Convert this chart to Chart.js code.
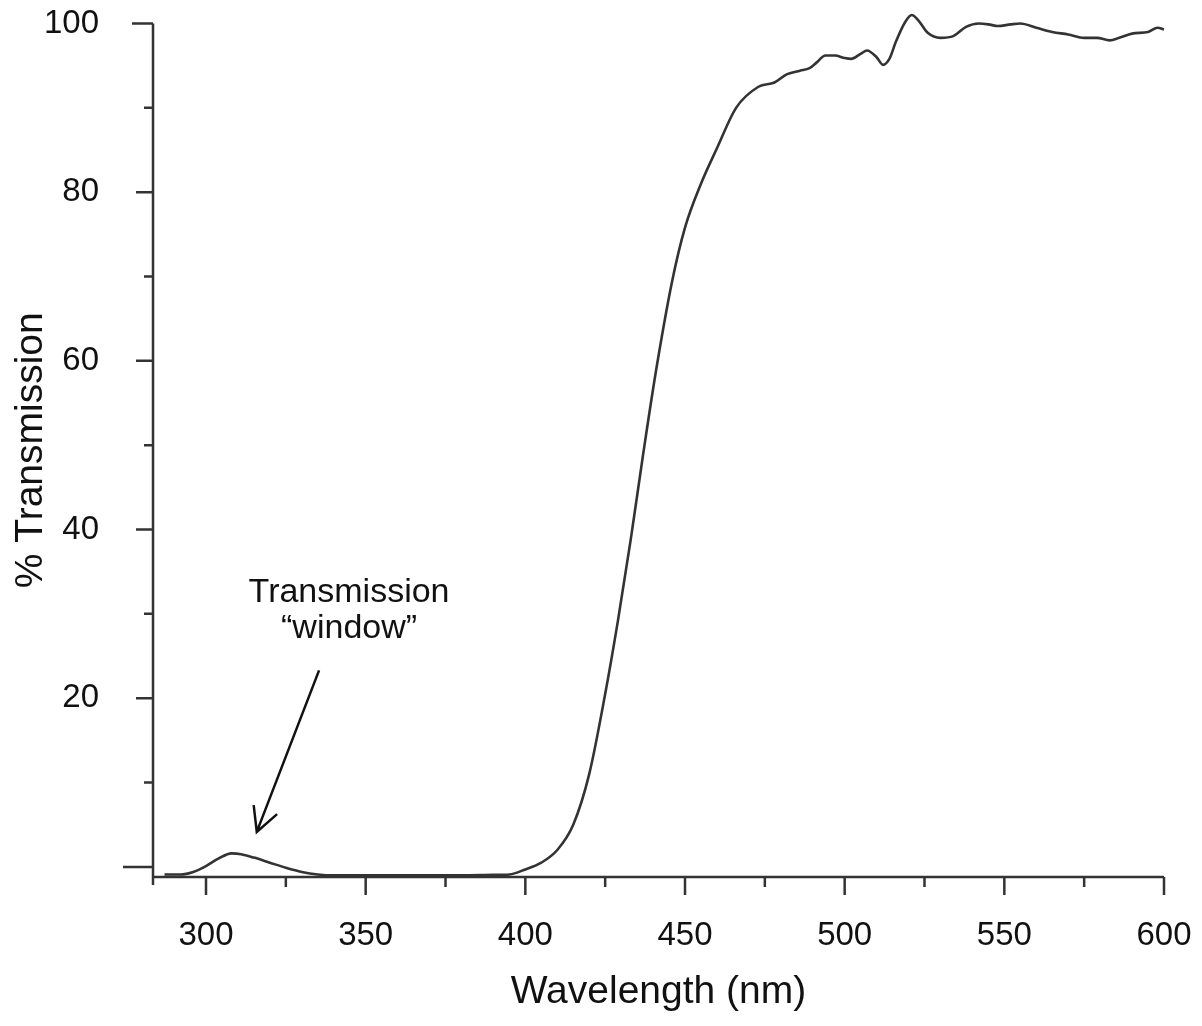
<!DOCTYPE html>
<html>
<head>
<meta charset="utf-8">
<title>% Transmission vs Wavelength</title>
<script src="https://cdn.jsdelivr.net/npm/chart.js@4.4.1/dist/chart.umd.min.js"></script>
<style>
  html, body { margin: 0; padding: 0; background: #fff; }
  #wrap { width: 1202px; height: 1026px; position: relative; }
</style>
</head>
<body>
<div id="wrap"><canvas id="spectrum"></canvas></div>
<script>
// transmission spectrum, wavelength in nm
let wavelengths = [
    287, 292, 296, 300, 304, 308, 311, 315, 320, 325, 330, 335, 340,
    350, 360, 370, 380, 390, 395, 400, 405, 410, 415, 420, 425, 429,
    433, 437, 441, 446, 450, 455, 460, 466, 473, 478, 482, 486, 489,
    491, 494, 497, 500, 502, 505, 507, 510, 512, 514, 516, 519, 521,
    523, 526, 530, 534, 538, 542, 545, 548, 552, 555, 560, 565, 570,
    575, 579, 583, 586, 590, 595, 598, 600
];
let transmission = [
    -0.9, -0.9, -0.6, 0.1, 1.0, 1.6, 1.5, 1.1, 0.5, -0.1, -0.6, -0.9, -1.0,
    -1.0, -1.0, -1.0, -1.0, -0.95, -0.9, -0.3, 0.5, 2.0, 5.0, 11.0, 20.5, 29.2,
    38.8, 49.2, 59.0, 69.5, 75.8, 81.0, 85.2, 90.0, 92.5, 93.0, 94.0, 94.4, 94.7,
    95.3, 96.2, 96.2, 95.9, 95.8, 96.4, 96.8, 96.0, 95.1, 95.8, 97.8, 100.2, 101.0,
    100.4, 98.9, 98.3, 98.5, 99.6, 100.0, 99.9, 99.7, 99.9, 100.0, 99.5, 99.0, 98.7,
    98.3, 98.3, 98.0, 98.3, 98.8, 99.0, 99.5, 99.3
];

let xMajor = [300, 350, 400, 450, 500, 550, 600];
let xMinor = [325, 375, 425, 475, 525, 575];
let yMajor = [0, 20, 40, 60, 80, 100];
let yMinor = [10, 30, 50, 70, 90];
let yLabels = ["", "20", "40", "60", "80", "100"];

const INK = "#333";
const FONT = "'Liberation Sans', Arial, sans-serif";

let points = wavelengths.map((w, i) => ({ x: w, y: transmission[i] }));

// axes + tick marks drawn by hand, plus the "window" note with its arrow
const axesPlugin = {
    id: "axes",
    afterDraw(chart) {
        let ctx = chart.ctx,
            xs = chart.scales.x,
            ys = chart.scales.y,
            area = chart.chartArea;

        ctx.save();
        ctx.strokeStyle = INK;
        ctx.lineWidth = 2.5;
        ctx.lineCap = "butt";

        // y axis line and ticks
        ctx.beginPath();
        ctx.moveTo(area.left, area.top);
        ctx.lineTo(area.left, area.bottom + 8);
        yMajor.forEach(v => {
            let py = ys.getPixelForValue(v);
            let len = v === 0 ? 30 : (v === 100 ? 21 : 17);
            ctx.moveTo(area.left - len, py);
            ctx.lineTo(area.left, py);
        });
        yMinor.forEach(v => {
            let py = ys.getPixelForValue(v);
            ctx.moveTo(area.left - 9, py);
            ctx.lineTo(area.left, py);
        });

        // x axis line and ticks
        ctx.moveTo(area.left, area.bottom);
        ctx.lineTo(xs.getPixelForValue(600), area.bottom);
        xMajor.forEach(v => {
            let px = xs.getPixelForValue(v);
            ctx.moveTo(px, area.bottom);
            ctx.lineTo(px, area.bottom + 18);
        });
        xMinor.forEach(v => {
            let px = xs.getPixelForValue(v);
            ctx.moveTo(px, area.bottom);
            ctx.lineTo(px, area.bottom + 10);
        });
        ctx.stroke();

        // annotation
        ctx.fillStyle = "#111";
        ctx.font = "34px " + FONT;
        ctx.textAlign = "center";
        ctx.textBaseline = "middle";
        ctx.fillText("Transmission", xs.getPixelForValue(344.8), ys.getPixelForValue(32.5));
        ctx.fillText("\u201Cwindow\u201D", xs.getPixelForValue(344.8), ys.getPixelForValue(28.3));

        let x0 = xs.getPixelForValue(335.4), y0 = ys.getPixelForValue(23.3),
            x1 = xs.getPixelForValue(315.9), y1 = ys.getPixelForValue(4.15);
        let ang = Math.atan2(y1 - y0, x1 - x0),
            head = 27, spread = Math.PI / 6.5;
        ctx.strokeStyle = "#111";
        ctx.lineWidth = 2.5;
        ctx.beginPath();
        ctx.moveTo(x0, y0);
        ctx.lineTo(x1, y1);
        ctx.moveTo(x1 - head * Math.cos(ang - spread), y1 - head * Math.sin(ang - spread));
        ctx.lineTo(x1, y1);
        ctx.lineTo(x1 - head * Math.cos(ang + spread), y1 - head * Math.sin(ang + spread));
        ctx.stroke();
        ctx.restore();
    }
};

const config = {
    type: "line",
    data: {
        datasets: [{
            data: points,
            borderColor: INK,
            borderWidth: 2.6,
            pointRadius: 0,
            fill: false,
            clip: false,
            cubicInterpolationMode: "monotone"
        }]
    },
    options: {
        responsive: true,
        maintainAspectRatio: false,
        animation: false,
        layout: { padding: { top: 23.5, right: 38, left: 0, bottom: 0 } },
        plugins: {
            legend: { display: false },
            tooltip: { enabled: false }
        },
        scales: {
            x: {
                type: "linear",
                min: 283.4,
                max: 600,
                grid: { display: false },
                border: { display: false },
                afterBuildTicks: scale => {
                    scale.ticks = xMajor.map(v => ({ value: v }));
                },
                afterFit: scale => {
                    scale.height = 149;
                    scale.paddingLeft = 0;
                    scale.paddingRight = 0;
                },
                ticks: {
                    autoSkip: false,
                    maxRotation: 0,
                    padding: 31,
                    color: "#111",
                    font: { family: FONT, size: 33 },
                    callback: v => String(v)
                },
                title: {
                    display: true,
                    text: "Wavelength (nm)",
                    color: "#111",
                    font: { family: FONT, size: 39 },
                    padding: { top: 0, bottom: 10 }
                }
            },
            y: {
                type: "linear",
                min: -1.2,
                max: 100,
                grid: { display: false },
                border: { display: false },
                afterBuildTicks: scale => {
                    scale.ticks = yMajor.map(v => ({ value: v }));
                },
                afterFit: scale => {
                    scale.width = 153;
                    scale.paddingTop = 0;
                    scale.paddingBottom = 0;
                },
                ticks: {
                    autoSkip: false,
                    padding: 46,
                    color: "#111",
                    font: { family: FONT, size: 33 },
                    callback: v => yLabels[yMajor.indexOf(v)] || ""
                },
                title: {
                    display: true,
                    text: "% Transmission",
                    color: "#111",
                    font: { family: FONT, size: 39 },
                    padding: { top: 8, bottom: 0 }
                }
            }
        }
    },
    plugins: [axesPlugin]
};

var spectrumChart = new Chart(document.getElementById("spectrum"), config);
</script>
</body>
</html>
